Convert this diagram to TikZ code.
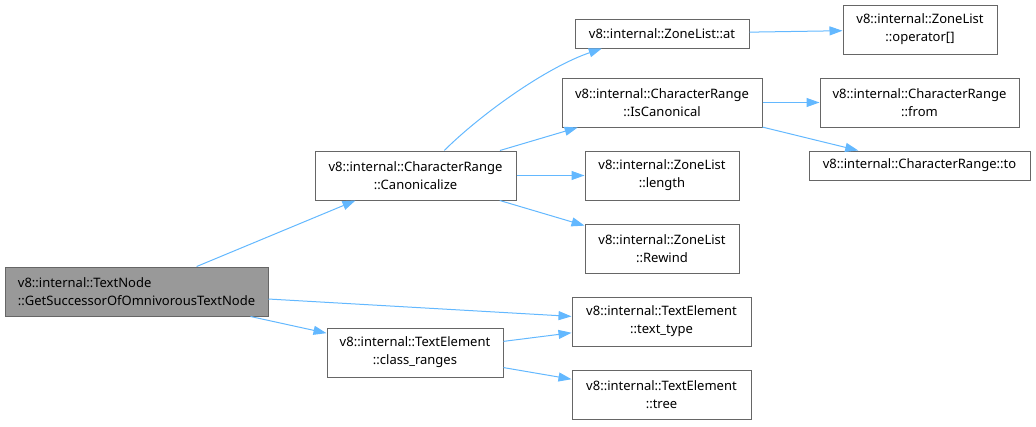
\documentclass[tikz,border=0pt]{standalone}
\usepackage{fontspec}
\setmainfont{Noto Sans}
\usepackage{xcolor}
\usetikzlibrary{arrows.meta}
\definecolor{edgeblue}{HTML}{63B8FF}
\definecolor{boxrule}{HTML}{666666}
\definecolor{rootbg}{HTML}{999999}

\begin{document}
\begin{tikzpicture}[x=1pt,y=-1pt,
      fn/.style={draw=boxrule,fill=white,line width=1pt,align=center,
                 minimum height=49pt,inner sep=0pt,
                 font=\fontsize{13}{18}\selectfont},
      fnone/.style={fn,minimum height=29pt},
      edge/.style={draw=edgeblue,line width=1pt,-{Triangle[length=13pt,width=9pt]}}]
    \useasboundingbox (0,0) rectangle (1036,426);
    % caller
    \node[fn,fill=rootbg,align=left,minimum width=263pt] (textnode) at (136.5,291.5)
      {v8::internal::TextNode\\::GetSuccessorOfOmnivorousTextNode};
    % first level
    \node[fn,minimum width=201pt] (canon) at (415.5,175.5)
      {v8::internal::CharacterRange\\::Canonicalize};
    \node[fn,minimum width=176pt] (ranges) at (415,352.5)
      {v8::internal::TextElement\\::class\_ranges};
    % second level
    \node[fnone,minimum width=174pt] (zlat) at (662,33.5) {v8::internal::ZoneList::at};
    \node[fn,minimum width=200pt] (iscanon) at (662,102.5)
      {v8::internal::CharacterRange\\::IsCanonical};
    \node[fn,minimum width=154pt] (zllength) at (662,175.5)
      {v8::internal::ZoneList\\::length};
    \node[fn,minimum width=154pt] (zlrewind) at (662,248.5)
      {v8::internal::ZoneList\\::Rewind};
    \node[fn,minimum width=179pt] (texttype) at (661.5,321.5)
      {v8::internal::TextElement\\::text\_type};
    \node[fn,minimum width=179pt] (tetree) at (661.5,394.5)
      {v8::internal::TextElement\\::tree};
    % third level
    \node[fn,minimum width=154pt] (zlop) at (920,29.5)
      {v8::internal::ZoneList\\::operator[]};
    \node[fn,minimum width=199pt] (crfrom) at (919.5,102.5)
      {v8::internal::CharacterRange\\::from};
    \node[fnone,minimum width=221pt] (crto) at (919.5,165.5)
      {v8::internal::CharacterRange::to};
    % calls
    \foreach \a/\b in {textnode/canon,textnode/texttype,textnode/ranges,
                       canon/iscanon,canon/zllength,canon/zlrewind,
                       ranges/texttype,ranges/tetree,
                       zlat/zlop,iscanon/crfrom,iscanon/crto}
      \draw[edge] (\a) -- (\b);
    \draw[edge] (canon.41) .. controls (480,115) and (545,68) .. (zlat.194);
  \end{tikzpicture}
\end{document}
